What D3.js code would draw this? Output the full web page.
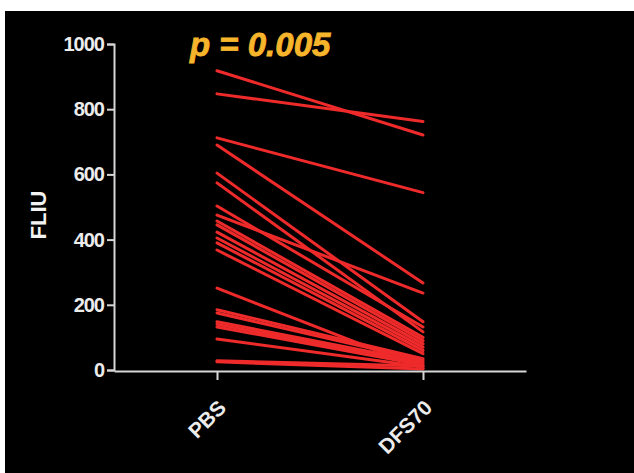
<!DOCTYPE html>
<html>
<head>
<meta charset="utf-8">
<script src="https://cdn.jsdelivr.net/npm/d3@7"></script>
<style>
  body { margin: 0; background: #fff; }
  svg { display: block; }
</style>
</head>
<body>
<div id="chart"></div>
<script>
// groups on the x axis
var groups = ["PBS", "DFS70"];
// paired values, one line per sample
var pbsValues   = [918, 847, 712, 690, 604, 574, 503, 475, 457, 445, 423, 405, 390, 368, 251, 185, 175, 148, 140, 132, 95, 28, 25];
var dfs70Values = [721, 762, 544, 267, 148, 117, 132, 236, 100, 90, 80, 70, 60, 50, 5, 35, 30, 25, 20, 15, 10, 12, 3];
var yTicks = [0, 200, 400, 600, 800, 1000];
var pText = "p = 0.005";

var w = 634, h = 473;
var svg = d3.select("#chart").append("svg").attr("width", w).attr("height", h);

// black panel (white strip left and top like the screenshot)
svg.append("rect").attr("x", 5).attr("y", 11).attr("width", w - 5).attr("height", h - 11).attr("fill", "#000");

var xScale = d3.scalePoint().domain(groups).range([114, 526]).padding(0.5);
var yScale = d3.scaleLinear().domain([0, 1000]).range([370, 44]);

// lines
var pairs = pbsValues.map(function(v, i) { return [v, dfs70Values[i]]; });
var line = d3.line()
    .x(function(d, i) { return xScale(groups[i]); })
    .y(function(d) { return yScale(d); });

svg.selectAll("path.pair")
    .data(pairs)
    .enter()
    .append("path")
    .attr("class", "pair")
    .attr("d", line)
    .attr("fill", "none")
    .attr("stroke", "#ee2a2a")
    .attr("stroke-width", 3)
    .attr("stroke-linecap", "round");

// axes
var axisColor = "#d6d6d6";
var yAxis = d3.axisLeft(yScale).tickValues(yTicks).tickSize(7).tickPadding(3).tickFormat(d3.format("d"));
var gy = svg.append("g").attr("transform", "translate(114,0)").call(yAxis);

var xAxis = d3.axisBottom(xScale).tickSize(9).tickSizeOuter(0);
var gx = svg.append("g").attr("transform", "translate(0,371)").call(xAxis);

[gx, gy].forEach(function(g) {
    g.select(".domain").attr("stroke", axisColor).attr("stroke-width", 2);
    g.selectAll(".tick line").attr("stroke", axisColor).attr("stroke-width", 2);
    g.selectAll("text")
        .attr("fill", "#ececec")
        .style("font-family", "Liberation Sans, Arial, sans-serif")
        .style("font-weight", "bold")
        .style("font-size", "20px");
});
gy.selectAll("text").attr("letter-spacing", "-1px");

gx.selectAll("text")
    .attr("x", 0).attr("y", 0).attr("dy", 0)
    .attr("text-anchor", "end")
    .attr("transform", "translate(10,38) rotate(-45)")
    .style("font-size", "21px");

// y axis title
svg.append("text")
    .attr("transform", "translate(46,215) rotate(-90)")
    .attr("text-anchor", "middle")
    .attr("fill", "#f2f2f2")
    .style("font-family", "Liberation Sans, Arial, sans-serif")
    .style("font-weight", "bold")
    .style("font-size", "22px")
    .text("FLIU");

// p value
svg.append("text")
    .attr("x", 190)
    .attr("y", 56)
    .attr("fill", "#f7b52c")
    .style("font-family", "Liberation Sans, Arial, sans-serif")
    .style("font-weight", "bold")
    .style("font-style", "italic")
    .style("font-size", "33px")
    .attr("stroke", "#f7b52c")
    .attr("stroke-width", 0.8)
    .text(pText);
</script>
</body>
</html>
